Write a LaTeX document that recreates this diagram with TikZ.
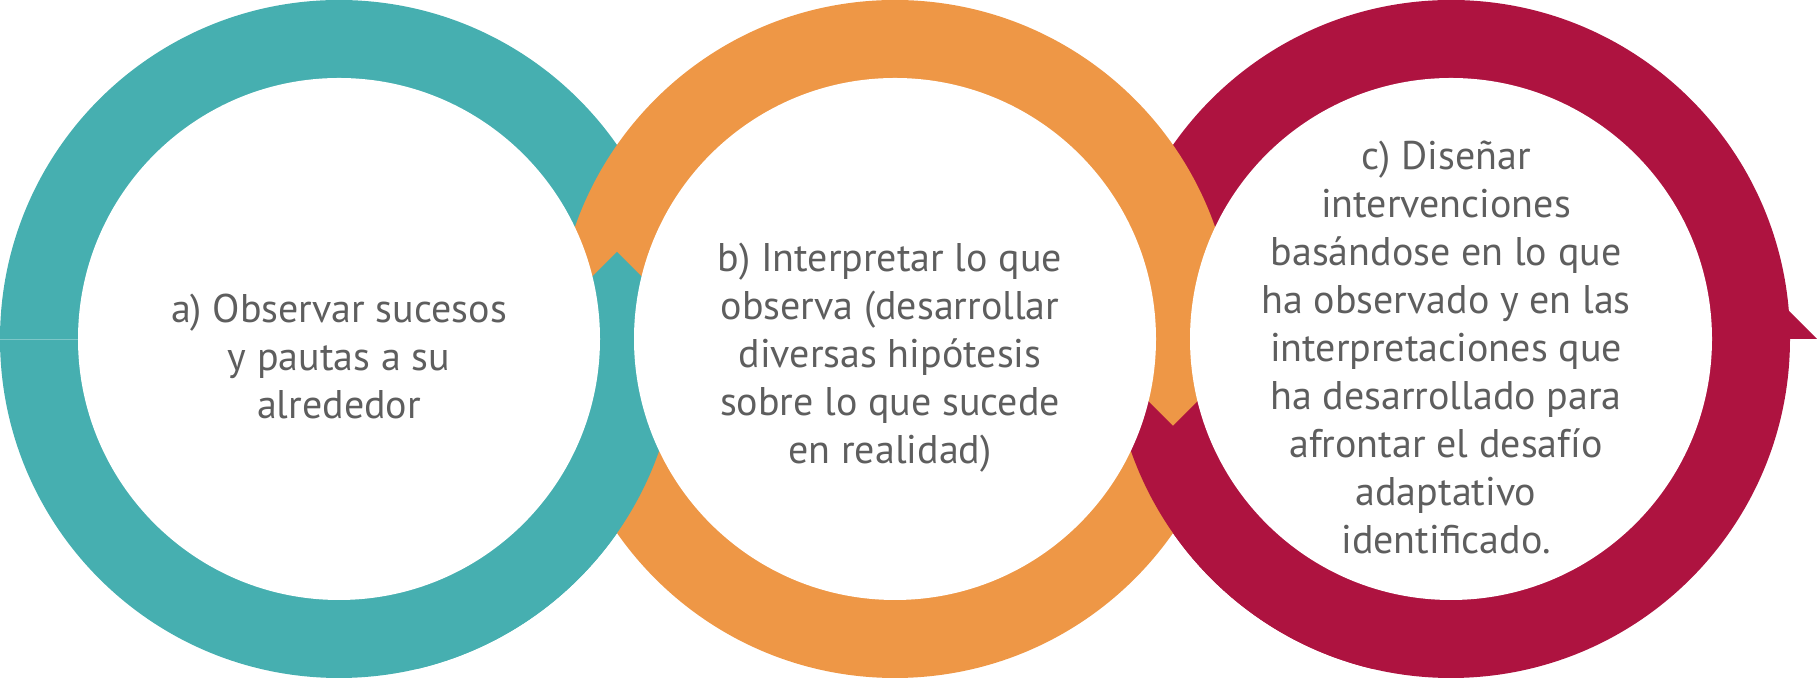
\documentclass[tikz,border=0pt]{standalone}
\usepackage{fontspec}
\setsansfont{PT Sans}
\usepackage{tikz}
\definecolor{ringteal}{HTML}{46AFB0}
\definecolor{ringorange}{HTML}{EE9746}
\definecolor{ringred}{HTML}{AE1340}
\definecolor{textgray}{HTML}{5E5E5E}

\begin{document}
\begin{tikzpicture}[x=0.5pt,y=0.5pt,
    txt/.style={align=center,text=textgray,inner sep=0pt,
      font=\sffamily\fontsize{20}{24}\selectfont}]
  \useasboundingbox (0,0) rectangle (1817,678);
  \coordinate (c_a) at (339,339);
  \coordinate (c_b) at (895,339);
  \coordinate (c_c) at (1451,339);
  \fill[ringred]    (c_c) circle[radius=339];
  \fill[ringred]    (1740,339) -- (1817,339) -- (1740,416) -- cycle;
  \fill[ringteal]   (c_a) circle[radius=339];
  \fill[ringorange] (c_b) circle[radius=339];
  \begin{scope}
    \clip (617,426) -- (817,226) -- (817,-10) -- (417,-10) -- (417,226) -- cycle;
    \fill[ringteal] (c_a) circle[radius=339];
  \end{scope}
  \begin{scope}
    \clip (1173,252) -- (1373,452) -- (1373,-10) -- (973,-10) -- (973,452) -- cycle;
    \fill[ringred] (c_c) circle[radius=339];
  \end{scope}
  \draw[ringteal!70!white, line width=0.4pt] (0,339) -- (78,339);
  \foreach \c in {c_a,c_b,c_c}
    \fill[white] (\c) circle[radius=261];
  \node[txt] (t_a) at (339,321)  {a) Observar sucesos\\ y pautas a su\\ alrededor};
  \node[txt] (t_b) at (890,320)  {b) Interpretar lo que\\ observa (desarrollar\\ diversas hipótesis\\ sobre lo que sucede\\ en realidad)};
  \node[txt] (t_c) at (1446,331) {c) Diseñar\\ intervenciones\\ basándose en lo que\\ ha observado y en las\\ interpretaciones que\\ ha desarrollado para\\ afrontar el desafío\\ adaptativo\\ identificado.};
\end{tikzpicture}
\end{document}
